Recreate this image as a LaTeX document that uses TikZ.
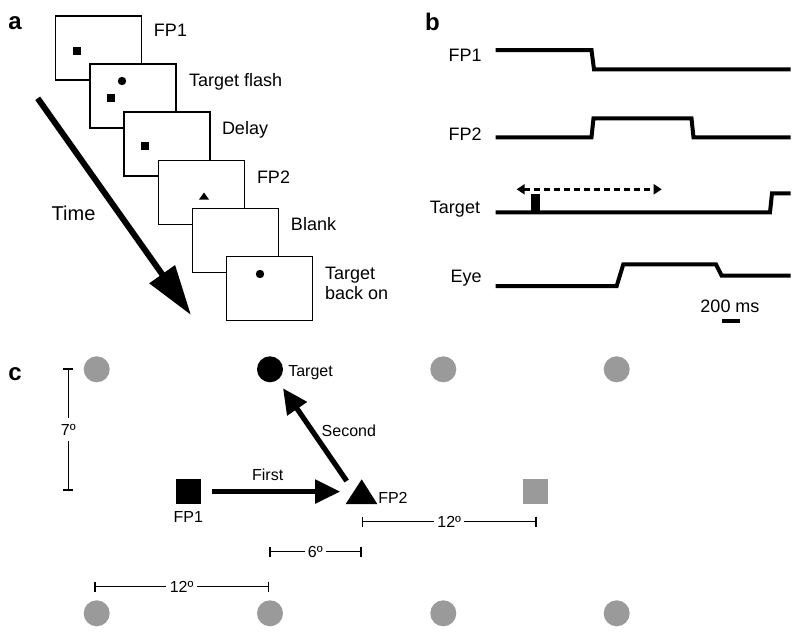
\documentclass[tikz,border=0pt]{standalone}
\usepackage{fontspec}
\setmainfont{Liberation Sans}
\usetikzlibrary{arrows.meta}
\definecolor{gray60}{HTML}{9A9A9A}
\begin{document}
\begin{tikzpicture}[x=0.5pt,y=-0.5pt,
  every node/.style={inner sep=0pt,outer sep=0pt},
  panel/.style={font=\fontsize{12}{14}\selectfont\bfseries,anchor=base west},
  alab/.style={font=\fontsize{9}{10}\selectfont,anchor=base west},
  blab/.style={font=\fontsize{9}{10}\selectfont,anchor=base east},
  clab/.style={font=\fontsize{8}{10}\selectfont},
  frame/.style={draw,line width=0.75pt,fill=white,minimum width=43pt,minimum height=32pt,anchor=north west},
  sqa/.style={fill=black,minimum size=4pt},
  dota/.style={circle,fill=black,minimum size=4.2pt},
  trace/.style={line width=2pt,line join=miter},
  gdot/.style={circle,fill=gray60,minimum size=13pt},
  sbar/.style={line width=0.75pt,{Bar[width=5pt]}-{Bar[width=5pt]}},
  sgap/.style={clab,fill=white,inner xsep=1.7pt,inner ysep=1pt},
  bigarrow/.style={line width=2.6pt,-{Triangle[length=12.5pt,width=11.5pt]}},
]
\useasboundingbox (0,0) rectangle (800,633);

% ---------- panel a ----------
\node[panel] (pa) at (8.3,29.3) {a};
\foreach \i in {1,...,6}
  \node[frame] (f\i) at ({55.7+34.2*(\i-1)},{16+48.1*(\i-1)}) {};
\node[sqa] (s1) at (76.7,50.7) {};
\node[dota] (c2) at (122,81) {};
\node[sqa] (s2) at (111,98) {};
\node[sqa] (s3) at (145.3,146) {};
\fill (199,199.5) -- (209,199.5) -- (204,192.5) -- cycle;
\node[dota] (c6) at (260,274) {};

\node[alab] (la1) at (154,36.7) {FP1};
\node[alab] (la2) at (189,86) {Target flash};
\node[alab] (la3) at (222,134.3) {Delay};
\node[alab] (la4) at (257,183.3) {FP2};
\node[alab] (la5) at (291,230.7) {Blank};
\node[alab] (la6) at (325,279.3) {Target};
\node[alab] (la7) at (325,299) {back on};

\coordinate (ta) at (37.7,98.3);
\coordinate (tb) at (191,315);
\draw[line width=3pt,-{Triangle[length=25pt,width=15pt]}] (ta) -- (tb);
\node[alab,font=\fontsize{10}{12}\selectfont] (time) at (51.7,220.7) {Time};

% ---------- panel b ----------
\node[panel] (pb) at (425,30.7) {b};
\node[blab] (lb1) at (481.7,61) {FP1};
\node[blab] (lb2) at (481.7,140.7) {FP2};
\node[blab] (lb3) at (480,213) {Target};
\node[blab] (lb4) at (481.7,282.7) {Eye};

\draw[trace] (495.7,50) -- (591.5,50) -- (594,69.3) -- (790.7,69.3);
\draw[trace] (495.7,137.3) -- (591.5,137.3) -- (593.5,118.3) -- (691.5,118.3) -- (693.5,137.3) -- (790.7,137.3);
\draw[trace] (495.7,212.3) -- (770,212.3) -- (772,193.3) -- (790.7,193.3);
\fill (531,194) rectangle (540,212.3);
\draw[trace] (495.7,286) -- (616.7,286) -- (623.3,264.3) -- (716,264.3) -- (721.7,275.7) -- (790.7,275.7);
\coordinate (da) at (516.7,189.3);
\coordinate (db) at (661.7,189.3);
\draw[line width=1.3pt,dash pattern=on 3pt off 2pt,{Triangle[length=4pt,width=5pt]}-{Triangle[length=4pt,width=5pt]}] (da) -- (db);
\node[font=\fontsize{9}{10}\selectfont] (ms) at (730,306.7) {200 ms};
\fill (721.7,318.7) rectangle (740,322.7);

% ---------- panel c ----------
\node[panel] (pc) at (8.3,380) {c};
\foreach \x/\n in {96.7/gt1,443.3/gt3,616.7/gt4}
  \node[gdot] (\n) at (\x,369.3) {};
\foreach \x/\n in {96.7/gb1,270/gb2,443.3/gb3,616.7/gb4}
  \node[gdot] (\n) at (\x,613.3) {};
\node[circle,fill=black,minimum size=13pt] (tgt) at (270,369.3) {};
\node[fill=black,minimum size=12.5pt] (fp1) at (188.5,491.6) {};
\fill (345.7,504) -- (377.3,504) -- (361.7,479.3) -- cycle;
\coordinate (fp2) at (361.7,491.6);
\node[fill=gray60,minimum size=12.5pt] (gsq) at (535,491.5) {};

\node[clab,anchor=base west] (tgtl) at (288.3,376) {Target};
\node[clab,anchor=base] (fp1l) at (188.3,522.7) {FP1};
\node[clab,anchor=base west] (fp2l) at (378.3,503) {FP2};
\node[clab,anchor=base] (firstl) at (267.7,480.7) {First};
\node[clab,anchor=base west] (secl) at (321.7,436.7) {Second};

\draw[bigarrow,shorten <=11.9pt,shorten >=10.75pt] (fp1.center) -- (fp2);
\coordinate (s2a) at (346.7,481);
\draw[bigarrow,shorten >=11.5pt] (s2a) -- (tgt.center);

\draw[sbar] (68.3,368.3) -- node[sgap,inner ysep=3.2pt] (d7) {7º} (68.3,490.7);
\draw[sbar] (269,551.7) -- node[sgap] (d6) {6º} (361.7,551.7);
\draw[sbar] (94,586.7) -- node[sgap] (d12a) {12º} (269.3,586.7);
\draw[sbar] (361.7,521.7) -- node[sgap] (d12b) {12º} (536.7,521.7);
\end{tikzpicture}
\end{document}
